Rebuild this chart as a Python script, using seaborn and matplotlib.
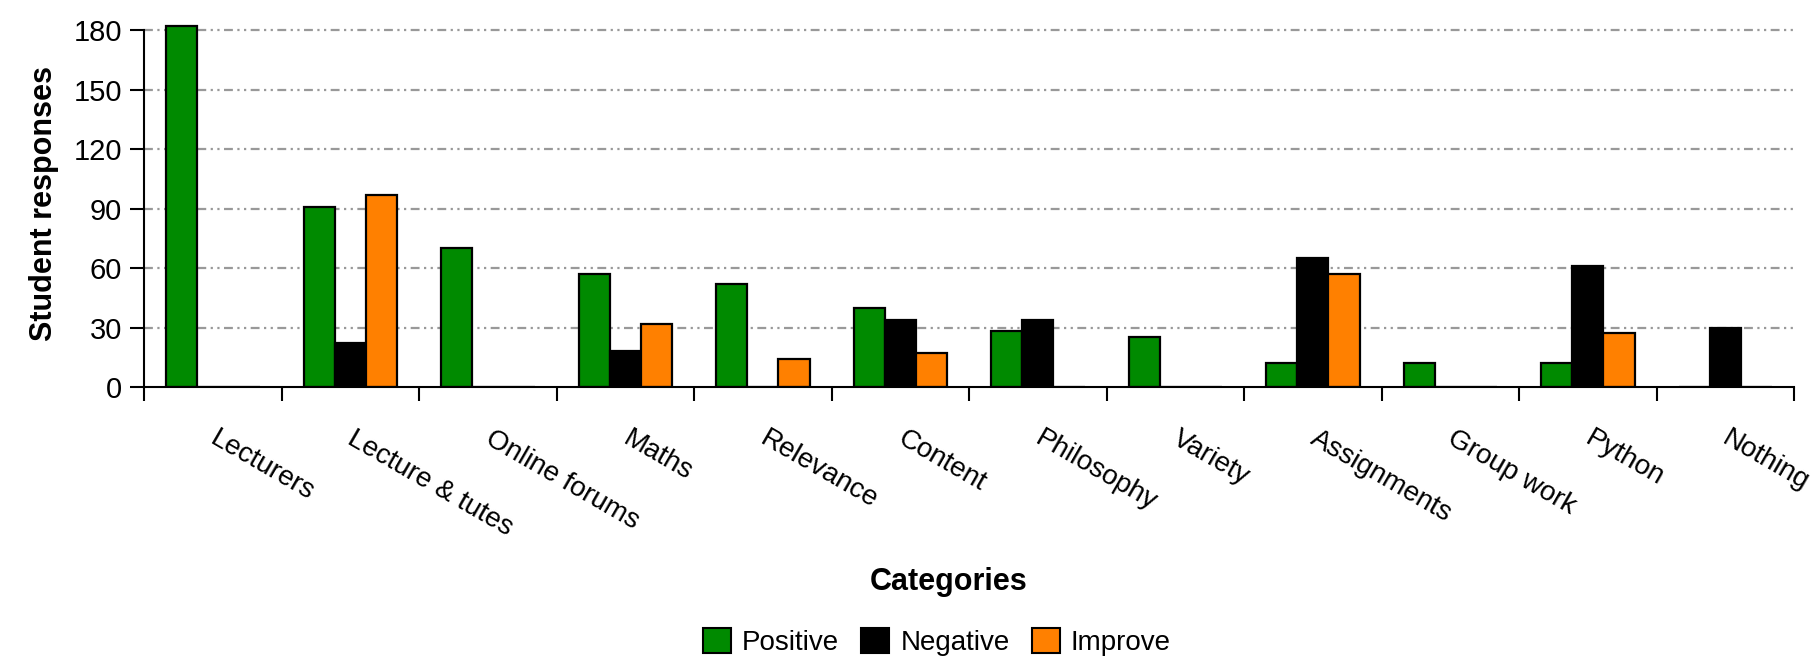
import numpy as np
import pandas as pd
import seaborn as sns
import matplotlib.pyplot as plt
from matplotlib.patches import Patch
from matplotlib.transforms import ScaledTranslation

categories = ["Lecturers", "Lecture & tutes", "Online forums", "Maths", "Relevance",
              "Content", "Philosophy", "Variety", "Assignments", "Group work",
              "Python", "Nothing"]
positive = [182, 91, 70, 57, 52, 40, 28, 25, 12, 12, 12, 0]
negative = [0, 22, 0, 18, 0, 34, 34, 0, 65, 0, 61, 30]
improve = [0, 97, 0, 32, 14, 17, 0, 0, 57, 0, 27, 0]
series = ["Positive", "Negative", "Improve"]
colors = ["#008a00", "#000000", "#ff8000"]
yticks = [0, 30, 60, 90, 120, 150, 180]

df = pd.DataFrame({
    "category": categories * 3,
    "type": [s for s in series for _ in categories],
    "value": positive + negative + improve,
})

sns.set_style("white")
plt.rcParams["font.family"] = ["Liberation Sans", "DejaVu Sans"]
plt.rcParams["text.color"] = "black"
plt.rcParams["xtick.color"] = "black"
plt.rcParams["ytick.color"] = "black"
plt.rcParams["axes.labelcolor"] = "black"

fig = plt.figure(figsize=(18.2, 6.58), dpi=100)
ax = fig.add_axes([144 / 1820, 271 / 658, 1650 / 1820, 185 * 1.983 / 658])

sns.barplot(data=df, x="category", y="value", hue="type", order=categories,
            hue_order=series, palette=colors, saturation=1, width=0.68,
            edgecolor="black", linewidth=1.6, errorbar=None, legend=False, ax=ax)

ax.set_xlim(-0.5, len(categories) - 0.5)
ax.set_ylim(0, 185)
for y in yticks[1:]:
    ax.axhline(y, color="#999999", lw=1.6, ls=(0, (4, 2, 1, 2, 1, 2)), zorder=0)
ax.set_axisbelow(True)

for s in ["top", "right"]:
    ax.spines[s].set_visible(False)
ax.spines["left"].set_bounds(0, 180)
for s in ["left", "bottom"]:
    ax.spines[s].set_linewidth(1.5)
    ax.spines[s].set_color("black")

ax.set_yticks(yticks)
ax.set_yticklabels([str(v) for v in yticks], fontsize=21)
ax.tick_params(axis="y", length=10, width=1.5, direction="out", left=True, pad=6)

bounds = np.arange(len(categories) + 1) - 0.5
ax.set_xticks(bounds)
ax.set_xticklabels([])
ax.tick_params(axis="x", which="major", length=10, width=1.5, direction="out", bottom=True)
ax.set_xticks(np.arange(len(categories)), minor=True)
ax.set_xticklabels(categories, minor=True, rotation=-30, ha="left", va="top",
                   rotation_mode="anchor", fontsize=20)
ax.tick_params(axis="x", which="minor", length=0, pad=28)
shift = ScaledTranslation(6 / 100, 0, fig.dpi_scale_trans)
for lbl in ax.get_xticklabels(minor=True):
    lbl.set_transform(lbl.get_transform() + shift)

ax.set_xlabel("")
ax.set_ylabel("Student responses", fontsize=22, fontweight="bold", labelpad=10)

fig.text(949 / 1820, 1 - 582 / 658, "Categories", ha="center", va="center",
         fontsize=22, fontweight="bold")

handles = [Patch(facecolor=c, edgecolor="black", linewidth=1.5) for c in colors]
fig.legend(handles, series, loc="center", bbox_to_anchor=(937 / 1820, 1 - 642 / 658),
           ncol=3, frameon=False, handlelength=1.0, handleheight=1.0, handletextpad=0.4,
           columnspacing=0.8, prop={"size": 20})

fig.savefig("out.png", dpi=100)
